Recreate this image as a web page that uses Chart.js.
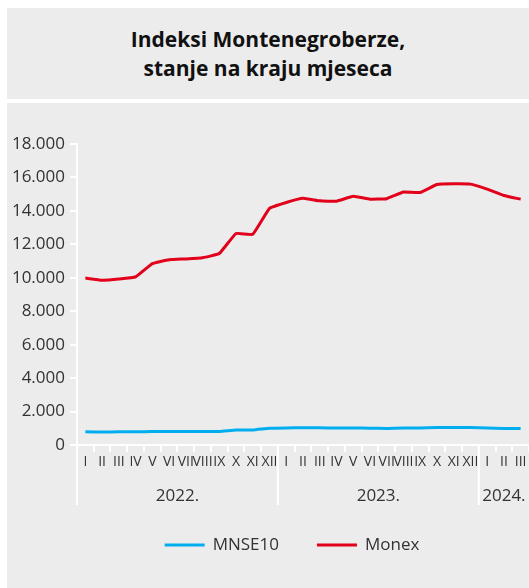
<!DOCTYPE html>
<html>
<head>
<meta charset="utf-8">
<script src="https://cdn.jsdelivr.net/npm/chart.js@4"></script>
<style>
  body { margin: 0; background: #fff; width: 529px; height: 588px; overflow: hidden; position: relative; }
  #title {
    position: absolute; left: 7px; top: 8px; width: 522px; height: 91px;
    background: #ececec; display: flex; align-items: center; justify-content: center;
    text-align: center; font-family: "Open Sans", sans-serif; font-weight: bold;
    font-size: 21px; line-height: 29px; color: #111;
  }
  #box { position: absolute; left: 7px; top: 103px; width: 522px; height: 485px; background: #ececec; }
</style>
</head>
<body>
<div id="title">Indeksi Montenegroberze,<br>stanje na kraju mjeseca</div>
<div id="box"><canvas id="chart" width="522" height="485"></canvas></div>
<script>
// month labels per year
const months = ['I', 'II', 'III', 'IV', 'V', 'VI', 'VII', 'VIII', 'IX', 'X', 'XI', 'XII'];
const years = ['2022.', '2023.', '2024.'];
const monthsPerYear = [12, 12, 3];

// end-of-month index values
const mnse10 = [790, 780, 785, 790, 800, 800, 805, 810, 810, 900, 900, 1000,
                1020, 1030, 1030, 1010, 1020, 1000, 990, 1010, 1020, 1040, 1050, 1040,
                1020, 990, 980];
const monex = [9980, 9850, 9920, 10050, 10850, 11080, 11130, 11200, 11450, 12650, 12600, 14150,
               14500, 14750, 14600, 14580, 14870, 14700, 14730, 15130, 15100, 15580, 15620, 15600,
               15300, 14920, 14700];

const yTicks = [0, 2000, 4000, 6000, 8000, 10000, 12000, 14000, 16000, 18000];

const labels = [];
monthsPerYear.forEach(n => { for (let i = 0; i < n; i++) labels.push(months[i]); });

const fontFamily = '"Open Sans", sans-serif';
const textColor = '#333';

// year captions and separators under the month axis
const yearAxisPlugin = {
  id: 'yearAxis',
  afterDraw(chart) {
    const x = chart.scales.x;
    const ctx = chart.ctx;
    const half = (x.getPixelForValue(1) - x.getPixelForValue(0)) / 2;
    const top = chart.chartArea.bottom;
    ctx.save();
    ctx.strokeStyle = '#ffffff';
    ctx.lineWidth = 2;
    ctx.fillStyle = textColor;
    ctx.font = '17px ' + fontFamily;
    ctx.textAlign = 'center';
    ctx.textBaseline = 'middle';
    let start = 0;
    monthsPerYear.forEach((n, i) => {
      const left = x.getPixelForValue(start) - half;
      const right = x.getPixelForValue(start + n - 1) + half;
      ctx.beginPath();
      ctx.moveTo(left, top);
      ctx.lineTo(left, top + 60);
      ctx.stroke();
      ctx.fillText(years[i], (left + right) / 2, top + 51);
      start += n;
    });
    ctx.restore();
  }
};

// legend row below the years, line samples in dataset colours
const legendPlugin = {
  id: 'lineLegend',
  afterDraw(chart) {
    const ctx = chart.ctx;
    const sets = chart.data.datasets;
    const lineLen = 40, gap = 8, spacing = 38;
    ctx.save();
    ctx.font = '17px ' + fontFamily;
    ctx.textBaseline = 'middle';
    const widths = sets.map(d => lineLen + gap + ctx.measureText(d.label).width);
    const total = widths.reduce((a, b) => a + b, 0) + spacing * (sets.length - 1);
    let cx = chart.width / 2 + 24 - total / 2;
    const cy = chart.chartArea.bottom + 100;
    sets.forEach((d, i) => {
      ctx.strokeStyle = d.borderColor;
      ctx.lineWidth = 3;
      ctx.beginPath();
      ctx.moveTo(cx, cy);
      ctx.lineTo(cx + lineLen, cy);
      ctx.stroke();
      ctx.fillStyle = textColor;
      ctx.fillText(d.label, cx + lineLen + gap, cy);
      cx += widths[i] + spacing;
    });
    ctx.restore();
  }
};

new Chart(document.getElementById('chart'), {
  type: 'line',
  data: {
    labels: labels,
    datasets: [
      { label: 'MNSE10', data: mnse10, borderColor: '#00aeef', backgroundColor: '#00aeef',
        borderWidth: 3, pointRadius: 0, tension: 0.1 },
      { label: 'Monex', data: monex, borderColor: '#e2001a', backgroundColor: '#e2001a',
        borderWidth: 3, pointRadius: 0, tension: 0.1 }
    ]
  },
  options: {
    responsive: false,
    animation: false,
    layout: { padding: { top: 41, right: 0, bottom: 87, left: 0 } },
    scales: {
      x: {
        offset: true,
        grid: { offset: true, drawOnChartArea: false, color: '#ffffff', tickLength: 7, lineWidth: 2 },
        border: { color: '#ffffff', width: 2 },
        ticks: { autoSkip: false, maxRotation: 0, padding: 2, color: textColor,
                 font: { family: fontFamily, size: 14 } },
        afterFit(scale) { scale.height = 56; }
      },
      y: {
        min: 0, max: 18000,
        afterBuildTicks(scale) { scale.ticks = yTicks.map(v => ({ value: v })); },
        grid: { drawOnChartArea: false, color: '#ffffff', tickLength: 7, lineWidth: 2 },
        border: { color: '#ffffff', width: 2 },
        ticks: {
          padding: 5, color: textColor, font: { family: fontFamily, size: 17 },
          callback: v => v.toLocaleString('de-DE')
        },
        afterFit(scale) { scale.width = 70; }
      }
    },
    plugins: {
      legend: { display: false },
      tooltip: { enabled: false }
    }
  },
  plugins: [yearAxisPlugin, legendPlugin]
});
</script>
</body>
</html>
